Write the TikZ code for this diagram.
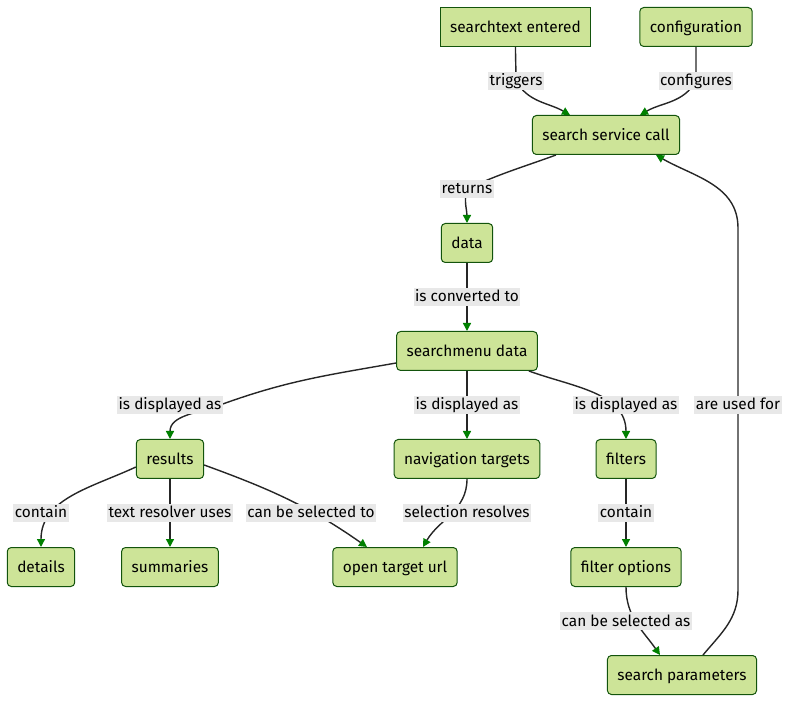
\documentclass[tikz,border=0pt]{standalone}
\usepackage{fontspec}
\setmainfont{Fira Sans}
\usetikzlibrary{arrows.meta}
\definecolor{boxfill}{HTML}{CDE498}
\definecolor{boxdraw}{HTML}{13540C}
\definecolor{tipgreen}{HTML}{008000}
\definecolor{lblbg}{HTML}{E8E8E8}
\tikzset{
  box/.style={draw=boxdraw, fill=boxfill, line width=1pt, rounded corners=4pt,
    minimum height=39pt, inner xsep=10pt, text height=12.5pt, text depth=1.5pt,
    font=\fontsize{15.4}{17}\selectfont},
  sqbox/.style={box, rounded corners=0pt},
  lbl/.style={fill=lblbg, inner sep=1.5pt, text height=12.5pt, text depth=2.5pt,
    font=\fontsize{15.4}{17}\selectfont},
  edge/.style={draw=black!85, line width=1.4pt, -{Triangle[length=8pt,width=8pt,color=tipgreen]}},
}
\begin{document}
\begin{tikzpicture}[x=1pt,y=1pt]
\path[use as bounding box] (0,0) rectangle (788,-703);
% nodes
\node[sqbox] (st)  at (515.5,-27) {searchtext entered};
\node[box]   (cfg) at (696,-27)   {configuration};
\node[box]   (ssc) at (606,-135)  {search service call};
\node[box]   (dat) at (467,-243)  {data};
\node[box]   (sm)  at (467,-351)  {searchmenu data};
\node[box]   (res) at (170,-459)  {results};
\node[box]   (nav) at (467,-459)  {navigation targets};
\node[box]   (fil) at (626,-459)  {filters};
\node[box]   (det) at (41,-567)   {details};
\node[box]   (sum) at (170,-567)  {summaries};
\node[box]   (otu) at (395,-567)  {open target url};
\node[box]   (fop) at (626,-567)  {filter options};
\node[box]   (sp)  at (682,-675)  {search parameters};
% label positions
\coordinate (p1) at (516,-81);
\coordinate (p2) at (696,-81);
\coordinate (p3) at (467,-189);
\coordinate (p4) at (467,-297);
\coordinate (p5) at (170,-405);
\coordinate (p6) at (467,-405);
\coordinate (p7) at (626,-405);
\coordinate (p8) at (738,-405);
\coordinate (p9) at (41,-513);
\coordinate (p10) at (170,-513);
\coordinate (p11) at (311,-513);
\coordinate (p12) at (467,-513);
\coordinate (p13) at (626,-513);
\coordinate (p14) at (626,-621);
\coordinate (c8a) at (738,-590);
\coordinate (c8b) at (738,-228);
% edges
\draw[edge] (st.south) to[out=-90,in=90] (p1) to[out=-60,in=150] ([xshift=-36pt]ssc.north);
\draw[edge] (cfg.south) to[out=-90,in=90] (p2) to[out=-120,in=30] ([xshift=34pt]ssc.north);
\draw[edge] ([xshift=-50pt]ssc.south) to[out=-160,in=25] (p3) to[out=-105,in=90] (dat.north);
\draw[edge] (dat.south) -- (p4) -- (sm.north);
\draw[edge] ([yshift=-12pt]sm.west) to[out=-170,in=20] ([xshift=50pt]p5) to[out=200,in=90] (res.north);
\draw[edge] (sm.south) -- (p6) -- (nav.north);
\draw[edge] ([xshift=-9pt]sm.south east) to[out=-20,in=90] (fil.north);
\draw[edge] ([xshift=21pt]sp.north) to[out=50,in=-90] (c8a) -- (c8b) to[out=90,in=-30] ([xshift=50pt]ssc.south);
\draw[edge] ([yshift=-8pt]res.west) to[out=-155,in=90] (det.north);
\draw[edge] (res.south) -- (p10) -- (sum.north);
\draw[edge] ([yshift=-6pt]res.east) to[out=-20,in=145] ([xshift=-28pt]otu.north);
\draw[edge] (nav.south) to[out=-90,in=60] ([xshift=28pt]otu.north);
\draw[edge] (fil.south) -- (p13) -- (fop.north);
\draw[edge] (fop.south) to[out=-90,in=125] ([xshift=-22pt]sp.north);
% labels
\node[lbl] (l1) at (p1) {triggers};
\node[lbl] (l2) at (p2) {configures};
\node[lbl] (l3) at (p3) {returns};
\node[lbl] (l4) at (p4) {is converted to};
\node[lbl] (l5) at (p5) {is displayed as};
\node[lbl] (l6) at (p6) {is displayed as};
\node[lbl] (l7) at (p7) {is displayed as};
\node[lbl] (l8) at (p8) {are used for};
\node[lbl] (l9) at (p9) {contain};
\node[lbl] (l10) at (p10) {text resolver uses};
\node[lbl] (l11) at (p11) {can be selected to};
\node[lbl] (l12) at (p12) {selection resolves};
\node[lbl] (l13) at (p13) {contain};
\node[lbl] (l14) at (p14) {can be selected as};
\end{tikzpicture}
\end{document}
